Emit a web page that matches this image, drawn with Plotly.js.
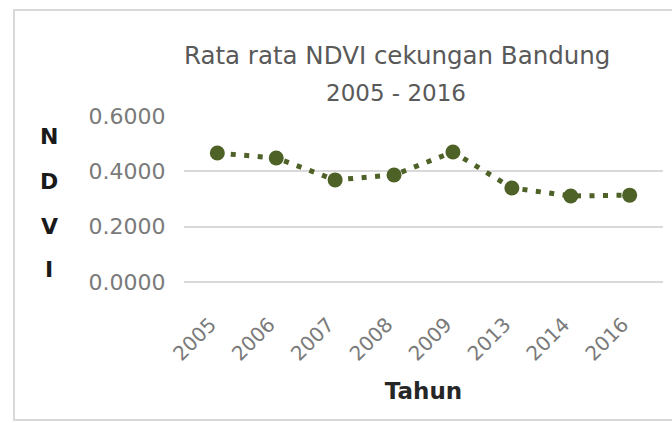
<!DOCTYPE html>
<html>
<head>
<meta charset="utf-8">
<script src="https://cdn.plot.ly/plotly-3.0.1.min.js"></script>
<style>
  html, body { margin: 0; padding: 0; background: #ffffff; }
  #wrap { position: relative; width: 672px; height: 423px; overflow: hidden; }
  #chart { position: absolute; left: 0; top: 0; width: 672px; height: 423px; }
  #frame { position: absolute; left: 13px; top: 9px; width: 700px; height: 408px;
           border: 2px solid #d9d9d9; pointer-events: none; }
</style>
</head>
<body>
<div id="wrap">
  <div id="chart"></div>
  <div id="frame"></div>
</div>
<script>
// Data
const years = ["2005", "2006", "2007", "2008", "2009", "2013", "2014", "2016"];
const ndvi = [0.466, 0.448, 0.369, 0.387, 0.470, 0.340, 0.311, 0.314];
const yTicks = [0, 0.2, 0.4, 0.6];
const titleLine1 = "Rata rata NDVI cekungan Bandung";
const titleLine2 = "2005 - 2016";
const yLetters = ["N", "D", "V", "I"];
const xTitle = "Tahun";

const green = "#4e6126";
const FONT = "DejaVu Sans, Verdana, sans-serif";

const trace = {
  x: years,
  y: ndvi,
  type: "scatter",
  mode: "lines+markers",
  line: { color: green, width: 5, dash: "5px,8.5px" },
  marker: { color: green, size: 15 },
  hoverinfo: "x+y"
};

const letterY = [0.8795, 0.6084, 0.3373, 0.0783];
const annotations = yLetters.map((t, i) => ({
  text: t, xref: "paper", yref: "paper", x: -0.281, y: letterY[i],
  xanchor: "center", yanchor: "middle", showarrow: false,
  font: { family: "DejaVu Sans, sans-serif", size: 22, color: "#1a1a1a", weight: "bold" }
}));
annotations.push({
  text: titleLine2, xref: "paper", yref: "paper", x: 0.442, y: 1.14,
  xanchor: "center", yanchor: "middle", showarrow: false,
  font: { family: FONT, size: 23, color: "#595959" }
});

const layout = {
  width: 672, height: 423,
  margin: { l: 184, r: 9, t: 116, b: 141 },
  paper_bgcolor: "rgba(0,0,0,0)",
  plot_bgcolor: "rgba(0,0,0,0)",
  showlegend: false,
  title: {
    text: titleLine1,
    font: { family: FONT, size: 24.5, color: "#595959" },
    x: 0.591, xanchor: "center",
    y: 0.87, yanchor: "middle", yref: "container"
  },
  xaxis: {
    type: "category",
    showgrid: false, zeroline: false, showline: false,
    ticks: "outside", ticklen: 22, tickcolor: "rgba(0,0,0,0)",
    tickangle: -45,
    ticklabelshift: -7,
    tickfont: { family: FONT, size: 20, color: "#7a7a7a" },
    title: { text: xTitle, standoff: 18,
             font: { family: "DejaVu Sans, sans-serif", size: 23, color: "#262626", weight: "bold" } },
    fixedrange: true
  },
  yaxis: {
    range: [0, 0.6],
    tickvals: yTicks,
    tickformat: ".4f",
    showgrid: true, gridcolor: "#d9d9d9", gridwidth: 2,
    zeroline: true, zerolinecolor: "#d9d9d9", zerolinewidth: 2,
    showline: false,
    ticks: "outside", ticklen: 13, tickcolor: "rgba(0,0,0,0)",
    tickfont: { family: FONT, size: 22, color: "#7a7a7a" },
    fixedrange: true
  },
  annotations: annotations
};

Plotly.newPlot("chart", [trace], layout, { displayModeBar: false, staticPlot: true });
</script>
</body>
</html>
